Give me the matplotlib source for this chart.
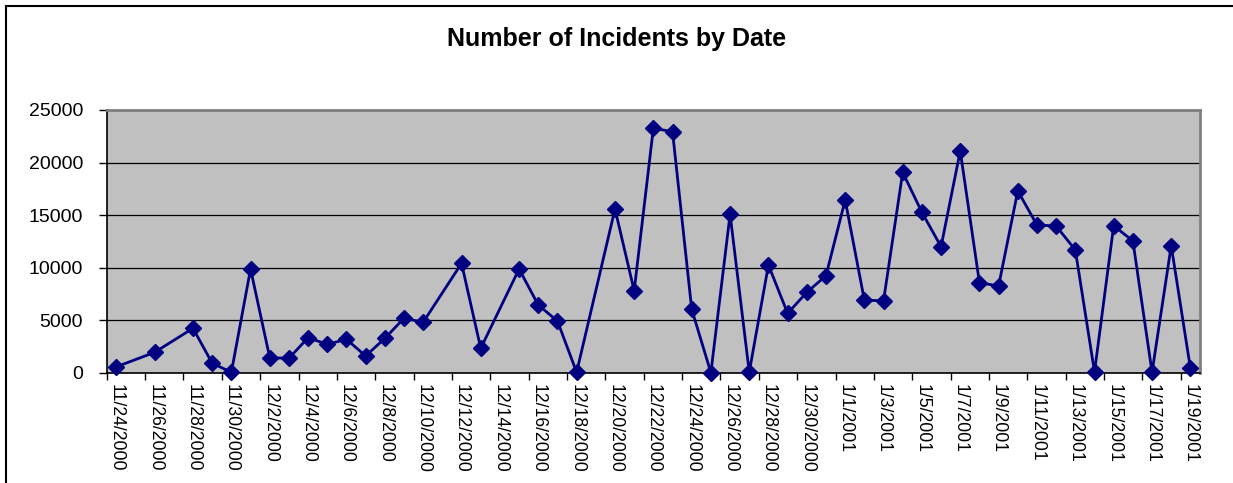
import matplotlib
matplotlib.use("Agg")
import matplotlib.pyplot as plt
from matplotlib.lines import Line2D
import pandas as pd

plt.rcParams['font.family'] = ['Liberation Sans', 'DejaVu Sans']

# ---- data ----
dates = [
    "11/24/2000", "11/26/2000", "11/28/2000", "11/29/2000", "11/30/2000",
    "12/1/2000", "12/2/2000", "12/3/2000", "12/4/2000", "12/5/2000",
    "12/6/2000", "12/7/2000", "12/8/2000", "12/9/2000", "12/10/2000",
    "12/12/2000", "12/13/2000", "12/15/2000", "12/16/2000", "12/17/2000",
    "12/18/2000", "12/20/2000", "12/21/2000", "12/22/2000", "12/23/2000",
    "12/24/2000", "12/25/2000", "12/26/2000", "12/27/2000", "12/28/2000",
    "12/29/2000", "12/30/2000", "12/31/2000", "1/1/2001", "1/2/2001",
    "1/3/2001", "1/4/2001", "1/5/2001", "1/6/2001", "1/7/2001",
    "1/8/2001", "1/9/2001", "1/10/2001", "1/11/2001", "1/12/2001",
    "1/13/2001", "1/14/2001", "1/15/2001", "1/16/2001", "1/17/2001",
    "1/18/2001", "1/19/2001",
]
incidents = [
    560, 1940, 4230, 900, 40,
    9870, 1430, 1370, 3330, 2700,
    3180, 1590, 3270, 5180, 4800,
    10410, 2320, 9870, 6440, 4920,
    40, 15580, 7800, 23260, 22940,
    6040, 0, 15080, 50, 10250,
    5650, 7650, 9230, 16440, 6920,
    6830, 19070, 15270, 11990, 21100,
    8570, 8250, 17300, 14060, 13960,
    11680, 60, 13990, 12540, 40,
    12090, 420,
]
axis_start = "11/24/2000"
axis_end = "1/19/2001"
yticks = [0, 5000, 10000, 15000, 20000, 25000]
title = "Number of Incidents by Date"

# ---- derived positions (day offsets along a date axis) ----
d = pd.to_datetime(dates, format="%m/%d/%Y")
start = pd.Timestamp(pd.to_datetime(axis_start, format="%m/%d/%Y"))
end = pd.Timestamp(pd.to_datetime(axis_end, format="%m/%d/%Y"))
x = [(t - start).days for t in d]
ndays = (end - start).days + 1
all_days = pd.date_range(start, end, freq="D")
label_pos = list(range(0, ndays, 2))
label_txt = [f"{all_days[i].month}/{all_days[i].day}/{all_days[i].year}" for i in label_pos]

fig = plt.figure(figsize=(12.33, 4.83), dpi=100)
W, H = 1233, 483
ax = fig.add_axes([106.7 / W, 1 - 372.7 / H, (1200 - 106.7) / W, (372.7 - 110) / H])
ax.set_facecolor("#C0C0C0")

ax.plot(x, incidents, color="#000080", lw=2.0, marker="D", ms=8,
        markerfacecolor="#000080", markeredgecolor="#000080", zorder=3, clip_on=False)

ax.set_xlim(-0.5, ndays - 0.5)
ax.set_ylim(0, 25000)
ax.set_yticks(yticks)
ax.set_yticklabels([str(v) for v in yticks], fontsize=14)
ax.yaxis.grid(True, color="black", lw=0.9)
ax.set_axisbelow(True)

# major ticks at boundaries every 2 days, labels at day centers
ax.set_xticks([p - 0.5 for p in range(0, ndays + 1, 2)])
ax.set_xticklabels([])
ax.set_xticks(label_pos, minor=True)
ax.set_xticklabels(label_txt, minor=True, rotation=270, fontsize=12.7, va="top", ha="center")
ax.tick_params(axis="x", which="major", direction="out", length=5, width=1, color="black")
ax.tick_params(axis="x", which="minor", length=0, pad=8)
ax.tick_params(axis="y", direction="out", length=6, width=1, color="black", pad=11)

for s in ["left", "bottom"]:
    ax.spines[s].set_color("black")
    ax.spines[s].set_linewidth(1.2)
for s in ["top", "right"]:
    ax.spines[s].set_color("#808080")
    ax.spines[s].set_linewidth(2)

fig.text(617 / W, 1 - 39 / H, title, ha="center", va="center", fontsize=18, fontweight="bold")

# outer chart border (partially visible)
fig.add_artist(Line2D([6 / W, 6 / W], [0, 1 - 5.5 / H], transform=fig.transFigure, color="black", lw=1.5))
fig.add_artist(Line2D([6 / W, 1], [1 - 5.5 / H, 1 - 5.5 / H], transform=fig.transFigure, color="black", lw=1.5))

fig.savefig("out.png", dpi=100)
